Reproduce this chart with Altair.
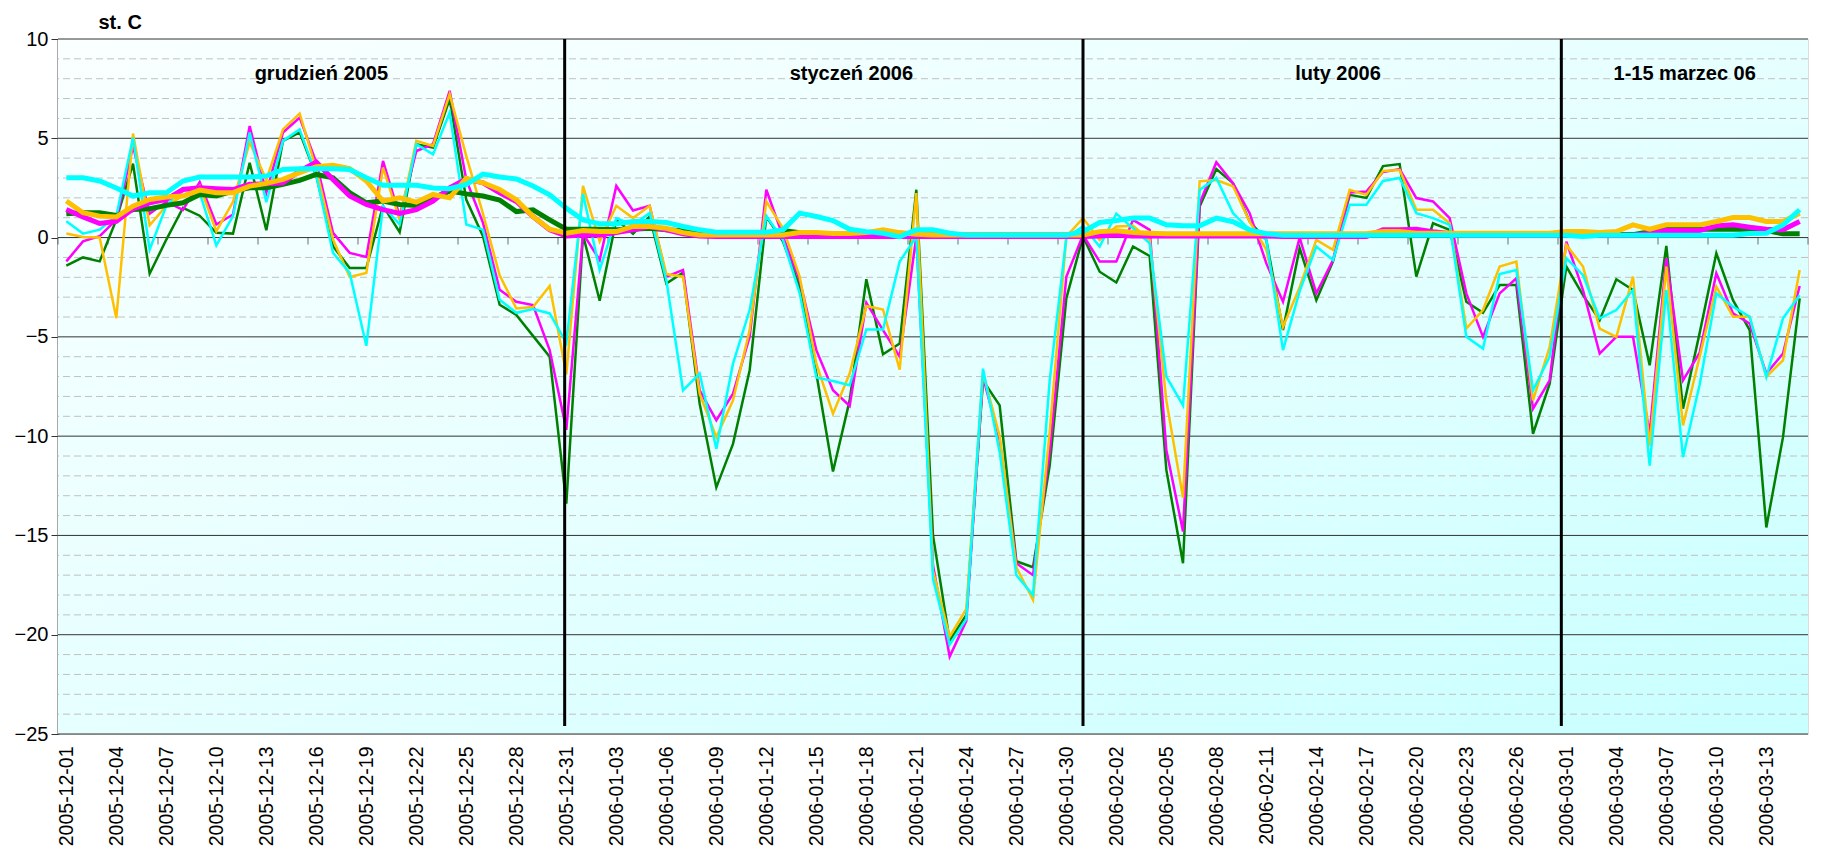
import altair as alt
import pandas as pd

# ---- categories (days) ----
dates = [d.strftime("%Y-%m-%d") for d in pd.date_range("2005-12-01", "2006-03-15", freq="D")]

# ---- daily series (thin lines) ----
t_green = [-1.41, -1.0, -1.2, 0.9, 3.72, -1.82, -0.1, 1.5, 1.1, 0.24,
           0.2, 3.77, 0.37, 4.87, 5.3, 3.1, -0.44, -1.53, -1.53, 1.6,
           0.27, 4.7, 4.53, 6.97, 1.9, 0.07, -3.38, -3.9, -4.95, -6.0,
           -13.4, 0.13, -3.18, 0.9, 0.19, 1.06, -2.31, -1.77, -8.37, -12.58,
           -10.39, -6.68, 1.06, -0.2, -2.47, -6.85, -11.78, -8.2, -2.1, -5.88,
           -5.34, 2.41, -15.0, -20.3, -19.0, -7.2, -8.45, -16.3, -16.6, -11.5,
           -3.06, 0.05, -1.72, -2.26, -0.45, -0.93, -11.7, -16.4, 1.57, 3.45,
           2.74, 0.8, -0.12, -4.66, -0.54, -3.15, -1.2, 2.15, 2.0, 3.6,
           3.7, -1.97, 0.72, 0.39, -3.23, -3.79, -2.39, -2.39, -9.88, -7.36,
           -1.46, -2.9, -4.16, -2.1, -2.64, -6.43, -0.42, -8.62, -4.8, -0.79,
           -3.15, -4.66, -14.6, -10.05, -3.06]

t_magenta = [-1.2, -0.19, 0.07, 0.9, 4.6, 1.2, 1.8, 1.4, 2.8, 0.66,
             1.16, 5.62, 2.26, 5.29, 6.04, 3.77, 0.24, -0.77, -0.98, 3.86,
             1.08, 4.36, 4.7, 7.39, 2.9, 0.74, -2.63, -3.23, -3.4, -5.67,
             -9.68, 0.2, -1.13, 2.6, 1.36, 1.6, -1.97, -1.63, -7.7, -9.2,
             -7.86, -5.0, 2.41, 0.05, -2.14, -5.67, -7.69, -8.48, -3.28, -4.66,
             -6.0, 0.05, -16.5, -21.1, -19.3, -7.0, -10.2, -16.4, -17.0, -10.8,
             -1.97, 0.13, -1.21, -1.21, 0.89, 0.39, -10.7, -14.8, 1.73, 3.79,
             2.74, 1.23, -1.3, -3.23, 0.0, -2.81, -1.13, 2.27, 2.32, 3.3,
             3.45, 1.99, 1.82, 0.98, -2.81, -5.0, -2.81, -2.05, -8.62, -7.19,
             -0.2, -2.64, -5.84, -5.0, -5.0, -9.88, -1.04, -7.19, -5.8, -1.8,
             -3.82, -4.33, -6.85, -5.84, -2.44]

t_gold = [0.2, 0.03, 0.0, -4.06, 5.24, 0.62, 1.6, 2.1, 2.6, 0.32,
          1.8, 4.8, 2.9, 5.45, 6.25, 3.43, -0.1, -1.99, -1.78, 3.52,
          0.9, 4.87, 4.61, 7.22, 4.1, 1.2, -1.9, -3.57, -3.5, -2.44,
          -6.89, 2.6, -0.2, 1.6, 0.98, 1.6, -1.84, -1.97, -7.86, -10.05,
          -8.2, -4.66, 1.82, 0.47, -1.97, -6.35, -8.87, -6.85, -3.45, -3.62,
          -6.65, 2.24, -16.8, -20.1, -18.7, -6.8, -10.0, -16.6, -18.25, -9.8,
          0.05, 0.98, -0.12, 0.56, 0.59, -0.12, -8.2, -13.1, 2.83, 2.9,
          2.58, 0.8, -0.6, -4.5, -2.5, -0.12, -0.62, 2.41, 2.15, 3.35,
          3.4, 1.4, 1.4, 0.72, -4.58, -3.65, -1.46, -1.21, -8.2, -5.5,
          -0.37, -1.46, -4.58, -5.0, -1.97, -10.5, -1.46, -9.46, -6.0, -2.47,
          -3.99, -3.99, -7.02, -6.18, -1.63]

t_cyan = [0.82, 0.2, 0.4, 1.1, 5.03, -0.6, 1.6, 2.5, 2.26, -0.39,
          1.08, 5.29, 1.78, 4.87, 5.45, 3.1, -0.77, -1.78, -5.45, 1.58,
          0.66, 4.7, 4.19, 6.3, 0.66, 0.4, -3.13, -3.79, -3.6, -3.82,
          -5.3, 2.2, -1.63, 0.98, 0.64, 1.23, -2.14, -7.69, -6.85, -10.64,
          -6.35, -3.65, 1.09, -0.12, -2.81, -7.05, -7.22, -7.44, -4.63, -4.63,
          -1.21, 0.05, -17.2, -20.5, -19.2, -6.6, -10.8, -17.0, -18.0, -7.2,
          0.0, 0.56, -0.45, 1.2, 0.47, -0.29, -7.0, -8.45, 2.4, 3.0,
          1.23, 0.39, -0.1, -5.67, -2.7, -0.45, -1.13, 1.65, 1.65, 2.85,
          3.0, 1.23, 0.98, 0.64, -5.0, -5.59, -1.84, -1.63, -7.69, -6.0,
          -1.04, -1.89, -4.07, -3.65, -2.64, -11.48, -2.64, -11.06, -7.4, -2.81,
          -3.48, -3.99, -7.02, -4.07, -2.9]

# ---- smoothed series (thick lines) ----
s_green = [1.2, 1.25, 1.25, 1.11, 1.41, 1.45, 1.62, 1.75, 2.17, 2.09,
           2.34, 2.51, 2.51, 2.68, 2.88, 3.18, 3.01, 2.26, 1.75, 1.84,
           1.67, 1.62, 2.0, 2.34, 2.2, 2.09, 1.89, 1.31, 1.4, 0.89,
           0.42, 0.42, 0.42, 0.39, 0.42, 0.47, 0.39, 0.35, 0.22, 0.13,
           0.13, 0.13, 0.13, 0.35, 0.25, 0.13, 0.13, 0.13, 0.13, 0.13,
           0.13, 0.13, 0.13, 0.13, 0.13, 0.13, 0.13, 0.13, 0.13, 0.13,
           0.13, 0.13, 0.15, 0.15, 0.15, 0.15, 0.15, 0.15, 0.15, 0.15,
           0.15, 0.15, 0.15, 0.15, 0.15, 0.15, 0.15, 0.15, 0.15, 0.15,
           0.15, 0.15, 0.15, 0.15, 0.15, 0.15, 0.15, 0.15, 0.15, 0.15,
           0.15, 0.15, 0.15, 0.15, 0.15, 0.3, 0.42, 0.42, 0.42, 0.42,
           0.42, 0.42, 0.35, 0.19, 0.19]

s_magenta = [1.41, 1.04, 0.71, 0.82, 1.45, 1.75, 1.92, 2.42, 2.51, 2.46,
             2.42, 2.68, 2.71, 2.76, 3.35, 3.8, 2.93, 2.09, 1.67, 1.41,
             1.21, 1.41, 1.84, 2.51, 2.96, 2.76, 2.26, 1.82, 1.06, 0.39,
             0.08, 0.13, 0.13, 0.25, 0.39, 0.56, 0.39, 0.19, 0.08, 0.05,
             0.05, 0.05, 0.05, 0.05, 0.05, 0.05, 0.05, 0.05, 0.05, 0.05,
             0.05, 0.05, 0.05, 0.05, 0.05, 0.05, 0.05, 0.05, 0.05, 0.05,
             0.05, 0.05, 0.08, 0.13, 0.08, 0.08, 0.08, 0.08, 0.08, 0.08,
             0.08, 0.08, 0.08, 0.05, 0.05, 0.05, 0.05, 0.05, 0.05, 0.39,
             0.39, 0.42, 0.3, 0.2, 0.12, 0.12, 0.12, 0.12, 0.12, 0.12,
             0.12, 0.12, 0.12, 0.12, 0.12, 0.2, 0.35, 0.35, 0.35, 0.59,
             0.64, 0.52, 0.42, 0.39, 0.81]

s_gold = [1.84, 1.25, 1.08, 1.04, 1.58, 1.92, 2.04, 2.09, 2.39, 2.26,
          2.26, 2.59, 2.73, 2.93, 3.27, 3.57, 3.64, 3.47, 2.85, 1.84,
          2.0, 1.78, 2.17, 2.0, 2.98, 2.76, 2.42, 1.9, 1.06, 0.42,
          0.22, 0.35, 0.3, 0.3, 0.56, 0.56, 0.47, 0.25, 0.13, 0.13,
          0.13, 0.13, 0.13, 0.13, 0.25, 0.25, 0.2, 0.2, 0.25, 0.39,
          0.25, 0.17, 0.13, 0.13, 0.13, 0.13, 0.13, 0.13, 0.13, 0.13,
          0.13, 0.13, 0.3, 0.34, 0.25, 0.22, 0.19, 0.19, 0.19, 0.19,
          0.19, 0.19, 0.19, 0.19, 0.19, 0.19, 0.19, 0.19, 0.19, 0.3,
          0.3, 0.22, 0.22, 0.22, 0.22, 0.22, 0.22, 0.22, 0.22, 0.22,
          0.3, 0.3, 0.25, 0.3, 0.64, 0.42, 0.64, 0.64, 0.64, 0.81,
          1.01, 1.01, 0.81, 0.81, 1.23]

s_cyan = [3.01, 3.01, 2.85, 2.5, 2.09, 2.26, 2.26, 2.85, 3.05, 3.05,
          3.05, 3.05, 3.1, 3.43, 3.47, 3.47, 3.47, 3.43, 3.01, 2.63,
          2.63, 2.63, 2.5, 2.46, 2.68, 3.2, 3.05, 2.95, 2.6, 2.15,
          1.48, 0.89, 0.69, 0.69, 0.81, 0.81, 0.76, 0.56, 0.39, 0.27,
          0.27, 0.27, 0.27, 0.39, 1.23, 1.06, 0.86, 0.42, 0.3, 0.22,
          0.05, 0.39, 0.39, 0.22, 0.13, 0.13, 0.13, 0.13, 0.13, 0.13,
          0.13, 0.3, 0.76, 0.86, 0.98, 0.98, 0.64, 0.59, 0.59, 0.98,
          0.8, 0.39, 0.19, 0.12, 0.12, 0.12, 0.12, 0.12, 0.12, 0.12,
          0.12, 0.12, 0.12, 0.12, 0.12, 0.12, 0.12, 0.12, 0.12, 0.12,
          0.12, 0.05, 0.12, 0.12, 0.12, 0.12, 0.12, 0.12, 0.12, 0.12,
          0.12, 0.2, 0.22, 0.64, 1.4]

# ---- annotations ----
month_labels = ["grudzień 2005", "styczeń 2006", "luty 2006", "1-15 marzec 06"]
month_label_pos = [15.3, 47.1, 76.3, 97.1]
month_sep_pos = [29.9, 61.0, 89.7]
y_major = [-25, -20, -15, -10, -5, 0, 5, 10]
y_minor = [v for v in range(-24, 10) if v % 5 != 0]
x_label_idx = list(range(0, 105, 3))
x_tick_pos = [k - 0.5 for k in range(0, 106, 3)]

W, H = 1750, 695
FONT = "Liberation Sans"

label_expr = "[" + ",".join("'%s'" % d for d in dates) + "][datum.value]"

xscale = alt.Scale(domain=[-0.5, 104.5], nice=False, zero=False)
yscale = alt.Scale(domain=[-25, 10], nice=False, zero=False)
xaxis = alt.Axis(values=x_label_idx, labelExpr=label_expr, labelAngle=270,
                 labelAlign="right", labelBaseline="middle",
                 labelFontSize=19.5, labelFont=FONT, labelColor="#000000",
                 labelPadding=12, ticks=False, domain=False, grid=False,
                 title=None, labelOverlap=False)
yaxis = alt.Axis(values=y_major, labelFontSize=20, labelFont=FONT, labelColor="#000000",
                 tickSize=7, tickColor="#333333", tickWidth=1, labelPadding=3,
                 domain=True, domainColor="#555555", domainWidth=2, grid=False,
                 title="st. C", titleAngle=0, titleFont=FONT, titleFontSize=20,
                 titleFontWeight="bold", titleAlign="left", titleBaseline="alphabetic",
                 titleX=40, titleY=-11, titleColor="#000000")

X = lambda f: alt.X(f, type="quantitative", scale=xscale, axis=xaxis)
Y = lambda f: alt.Y(f, type="quantitative", scale=yscale, axis=yaxis)

bg = alt.Chart(pd.DataFrame({"a": [0]})).mark_rect(
    fill=alt.Gradient(gradient="linear", x1=0, y1=0, x2=1, y2=1,
                      stops=[alt.GradientStop(color="#FAFFFF", offset=0),
                             alt.GradientStop(color="#E6FFFF", offset=0.5),
                             alt.GradientStop(color="#C8FFFF", offset=1)])
).encode(x=alt.value(0), x2=alt.value(W), y=alt.value(0), y2=alt.value(H))

minor = alt.Chart(pd.DataFrame({"v": y_minor})).mark_rule(
    color="#C0C0C0", strokeWidth=1, strokeDash=[7, 4]).encode(y=Y("v"))
major = alt.Chart(pd.DataFrame({"v": y_major})).mark_rule(
    color="#333333", strokeWidth=1).encode(y=Y("v"))

zt = alt.Chart(pd.DataFrame({"p": x_tick_pos, "z": [0] * len(x_tick_pos)})).mark_tick(
    orient="vertical", size=7, thickness=1, color="#333333", yOffset=3.5
).encode(x=X("p"), y=Y("z"))

seps = alt.Chart(pd.DataFrame({"p": month_sep_pos, "top": [10] * 3, "bot": [-24.6] * 3})).mark_rule(
    color="#000000", strokeWidth=3).encode(x=X("p"), y=Y("top"), y2="bot")

mlab = alt.Chart(pd.DataFrame({"p": month_label_pos, "t": month_labels,
                               "yy": [7.94] * 4})).mark_text(
    font=FONT, fontSize=20, fontWeight="bold", color="#000000",
    align="center", baseline="alphabetic").encode(x=X("p"), y=Y("yy"), text="t:N")

series = [
    (t_green, "#008000", 2.5),
    (t_magenta, "#FF00FF", 2.5),
    (t_gold, "#FFC000", 2.5),
    (t_cyan, "#00FFFF", 2.5),
    (s_green, "#008000", 5),
    (s_magenta, "#FF00FF", 5),
    (s_gold, "#FFC000", 5),
    (s_cyan, "#00FFFF", 5),
]
lines = []
for vals, col, w in series:
    df = pd.DataFrame({"i": list(range(len(vals))), "v": vals})
    lines.append(alt.Chart(df).mark_line(color=col, strokeWidth=w, strokeJoin="miter",
                                         strokeMiterLimit=4).encode(x=X("i"), y=Y("v")))

chart = alt.layer(bg, minor, major, zt, *lines, seps, mlab).properties(
    width=W, height=H,
    autosize=alt.AutoSizeParams(type="none"),
    padding={"left": 50, "top": 31, "right": 20, "bottom": 115},
).configure_view(stroke="#808080", strokeWidth=3).configure(background="#FFFFFF")

chart.save("out.html", embed_options={"renderer": "svg", "actions": False})
